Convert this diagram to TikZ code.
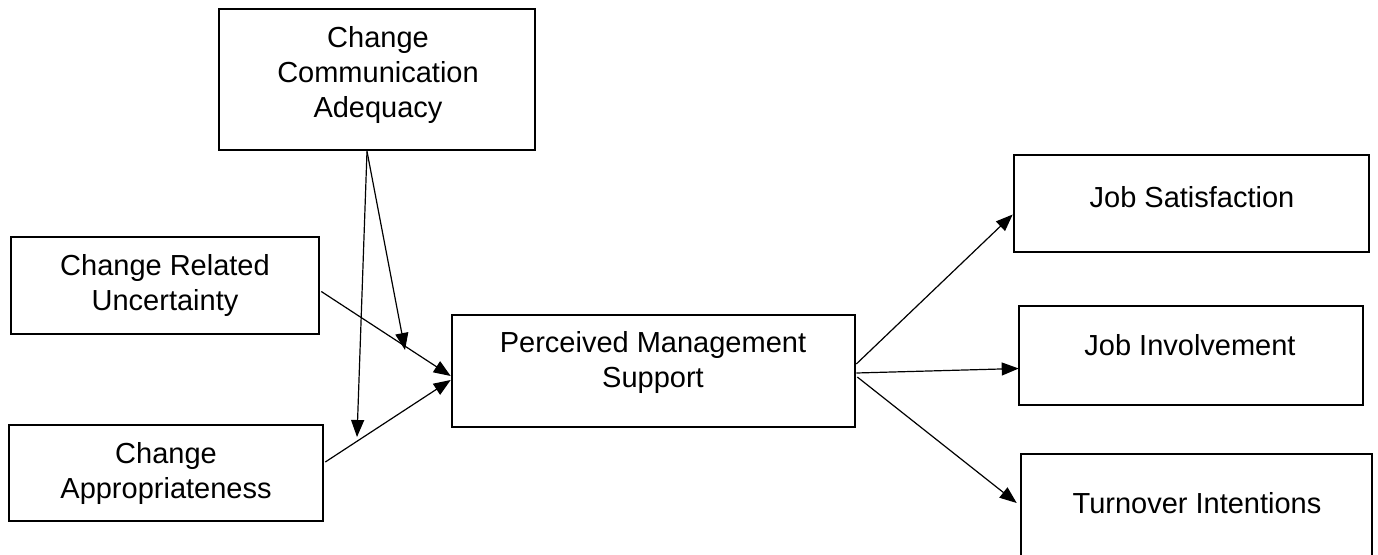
\documentclass[tikz,border=0pt]{standalone}
\usepackage{fontspec}
\setmainfont{Liberation Sans}
\usetikzlibrary{arrows.meta,calc}
\begin{document}
\begin{tikzpicture}[x=1pt,y=-1pt,
  box/.style={draw=black,line width=2.6pt,inner sep=0pt,fill=white},
  lbl/.style={align=center,inner sep=0pt,font=\fontsize{29}{35}\selectfont},
  link/.style={line width=1.2pt,-{Triangle[length=17pt,width=13pt]}}]
\clip (0,0) rectangle (1378,554);
\fill[white] (0,0) rectangle (1378,554);

% boxes
\node[box,minimum width=316pt,minimum height=141pt] (cca) at (377,79.5) {};
\node[box,minimum width=308pt,minimum height=97pt] (cru) at (165,285.5) {};
\node[box,minimum width=314pt,minimum height=96pt] (ca) at (166,473) {};
\node[box,minimum width=403pt,minimum height=112pt] (pms) at (653.5,371) {};
\node[box,minimum width=355pt,minimum height=97pt] (js) at (1191.5,203.5) {};
\node[box,minimum width=344pt,minimum height=99pt] (ji) at (1191,355.5) {};
\node[box,minimum width=351pt,minimum height=126pt] (ti) at (1196.5,517) {};

% labels
\node[lbl] (cca-t) at (378,75) {Change\\Communication\\Adequacy};
\node[lbl] (cru-t) at (165,285) {Change Related\\Uncertainty};
\node[lbl] (ca-t) at (166,473) {Change\\Appropriateness};
\node[lbl] (pms-t) at (653,362) {Perceived Management\\Support};
\node[lbl] (js-t) at (1192,197) {Job Satisfaction};
\node[lbl] (ji-t) at (1190,345) {Job Involvement};
\node[lbl] (ti-t) at (1197,503) {Turnover Intentions};

% free ends of the moderating arrows
\coordinate (cca-out) at ($(cca.south)+(-10,0)$);
\coordinate (m1) at (405,350);
\coordinate (m2) at (357,437);

% connectors
\draw[link] (cca-out) -- (m1);
\draw[link] (cca-out) -- (m2);
\draw[link] ($(cru.east)+(1,6)$) -- ($(pms.west)+(0,5)$);
\draw[link] ($(ca.east)+(1,-11)$) -- ($(pms.west)+(0,9)$);
\draw[link] ($(pms.east)+(0,-7)$) -- ($(js.west)+(0,11)$);
\draw[link] ($(pms.east)+(0,2)$) -- ($(ji.west)+(1,13)$);
\draw[link] ($(pms.east)+(1,6)$) -- ($(ti.west)+(-3,-14)$);
\end{tikzpicture}
\end{document}
